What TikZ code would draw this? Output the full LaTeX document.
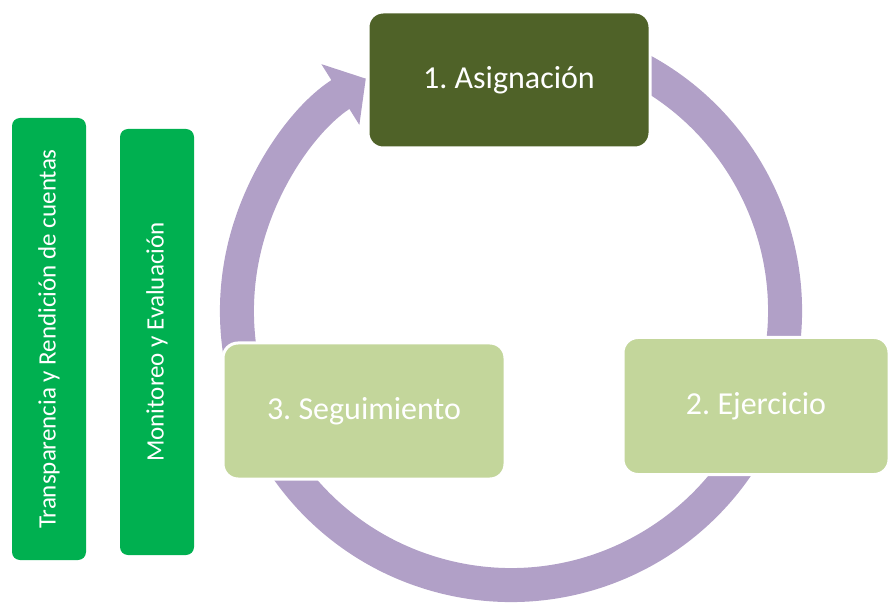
\documentclass[tikz,border=0pt]{standalone}
\usepackage{fontspec}
\setmainfont{Carlito}
\usetikzlibrary{arrows.meta}
\frenchspacing

\definecolor{verdeOsc}{HTML}{4F6228}
\definecolor{verdeCla}{HTML}{C3D69B}
\definecolor{verdeBar}{HTML}{00B050}
\definecolor{lila}{HTML}{B1A0C7}

\begin{document}
\begin{tikzpicture}[x=1pt,y=1pt,
	paso/.style={rectangle, rounded corners=15pt, draw=white, line width=3pt, inner sep=0pt, text=white, font=\fontsize{32}{36}\selectfont},
	barra/.style={rectangle, rounded corners=8pt, fill=verdeBar, inner sep=0pt, minimum height=74pt, text=white, rotate=90, font=\fontsize{25}{30}\selectfont}]
	\useasboundingbox (0,0) rectangle (891,603);

	% ciclo
	\coordinate (C) at (511,292);
	\draw[lila, line width=34pt, -{Triangle[length=30pt,width=70pt]}] (C) ++(75:274pt) arc[start angle=75, end angle=-238, radius=274pt];

	\node[paso, fill=verdeOsc, minimum width=282pt, minimum height=136pt] (B1) at (509,523) {1. Asignación};
	\node[paso, fill=verdeCla, minimum width=266pt, minimum height=137pt] (B2) at (756,197) {2. Ejercicio};
	\node[paso, fill=verdeCla, minimum width=282pt, minimum height=136pt] (B3) at (364,192) {3. Seguimiento};

	% barras laterales
	\node[barra, minimum width=442pt] (L1) at (49,264) {Transparencia y Rendición de cuentas};
	\node[barra, minimum width=426pt] (L2) at (157,261) {Monitoreo y Evaluación};
\end{tikzpicture}
\end{document}
